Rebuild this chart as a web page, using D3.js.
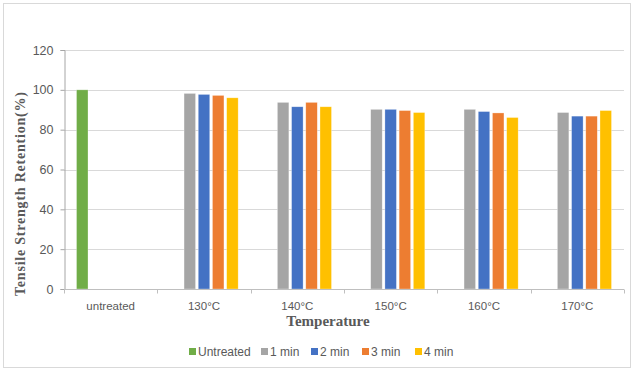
<!DOCTYPE html>
<html>
<head>
<meta charset="utf-8">
<script src="https://d3js.org/d3.v7.min.js"></script>
<style>
  body { margin: 0; background: #fff; }
  svg { display: block; }
</style>
</head>
<body>
<svg id="chart" width="635" height="378"></svg>
<script>
// data
var categories = ["untreated", "130°C", "140°C", "150°C", "160°C", "170°C"];
var seriesNames = ["Untreated", "1 min", "2 min", "3 min", "4 min"];
var seriesColors = ["#70ad47", "#a5a5a5", "#4472c4", "#ed7d31", "#ffc000"];
var untreated = [100, null, null, null, null, null];
var min1 = [null, 98.2, 93.7, 90.2, 90.2, 88.6];
var min2 = [null, 97.7, 91.5, 90.2, 89.1, 86.8];
var min3 = [null, 97.2, 93.7, 89.6, 88.4, 86.8];
var min4 = [null, 96.0, 91.5, 88.6, 86.1, 89.6];
var yTicks = [0, 20, 40, 60, 80, 100, 120];

var seriesValues = [untreated, min1, min2, min3, min4];

var svg = d3.select("#chart");
var margin = {left: 64, right: 11, top: 50, bottom: 89};
var W = 635, H = 378;

// outer chart border
svg.append("rect")
    .attr("x", 3.5).attr("y", 3.5)
    .attr("width", 627).attr("height", 364)
    .attr("fill", "#fff")
    .attr("stroke", "#d9d9d9");

var x0 = d3.scaleBand()
    .domain(categories)
    .range([margin.left, W - margin.right])
    .padding(0);

var x1 = d3.scaleBand()
    .domain(seriesNames)
    .range([0, x0.bandwidth()])
    .paddingInner(0.19)
    .paddingOuter(0.88);

var y = d3.scaleLinear()
    .domain([0, 120])
    .range([H - margin.bottom, margin.top]);

// gridlines
svg.append("g")
    .selectAll("line")
    .data(yTicks.slice(1))
    .join("line")
    .attr("x1", margin.left)
    .attr("x2", W - margin.right)
    .attr("y1", function(d) { return Math.round(y(d)) + 0.5; })
    .attr("y2", function(d) { return Math.round(y(d)) + 0.5; })
    .attr("stroke", "#d9d9d9");

// bars
var rows = [];
seriesValues.forEach(function(vals, s) {
    vals.forEach(function(v, c) {
        if (v != null) rows.push({cat: categories[c], series: seriesNames[s], value: v, color: seriesColors[s]});
    });
});

svg.append("g")
    .selectAll("rect")
    .data(rows)
    .join("rect")
    .attr("x", function(d) { return x0(d.cat) + x1(d.series); })
    .attr("y", function(d) { return y(d.value); })
    .attr("width", x1.bandwidth())
    .attr("height", function(d) { return y(0) - y(d.value); })
    .attr("fill", function(d) { return d.color; })
    .attr("stroke", "#fff")
    .attr("stroke-opacity", 0.5)
    .attr("stroke-width", 0.6);

// y axis
var yAxis = svg.append("g")
    .attr("transform", "translate(" + (margin.left + 0.5) + ",0)")
    .call(d3.axisLeft(y).tickValues(yTicks).tickSize(4).tickPadding(7));
yAxis.select(".domain").attr("stroke", "#a6a6a6");
yAxis.selectAll(".tick line").attr("stroke", "#a6a6a6");
yAxis.selectAll(".tick text")
    .attr("fill", "#595959")
    .style("font-family", "'Liberation Sans', Arial, sans-serif")
    .style("font-size", "12.5px");

// x axis
var xAxis = svg.append("g")
    .attr("transform", "translate(0," + (Math.round(y(0)) + 0.5) + ")");
xAxis.append("line")
    .attr("x1", margin.left).attr("x2", W - margin.right)
    .attr("stroke", "#bfbfbf");
xAxis.selectAll("line.tk")
    .data(categories.concat(["end"]))
    .join("line")
    .attr("class", "tk")
    .attr("x1", function(d, i) { return Math.round(margin.left + i * x0.step()) + 0.5; })
    .attr("x2", function(d, i) { return Math.round(margin.left + i * x0.step()) + 0.5; })
    .attr("y1", 0).attr("y2", 4)
    .attr("stroke", "#bfbfbf");
xAxis.selectAll("text")
    .data(categories)
    .join("text")
    .attr("x", function(d) { return x0(d) + x0.bandwidth() / 2; })
    .attr("y", 20)
    .attr("text-anchor", "middle")
    .attr("fill", "#595959")
    .style("font-family", "'Liberation Sans Narrow', 'Liberation Sans', Arial, sans-serif")
    .style("font-size", "11.5px")
    .text(function(d) { return d; });

// axis titles
svg.append("text")
    .attr("x", 328)
    .attr("y", 326)
    .attr("text-anchor", "middle")
    .attr("fill", "#595959")
    .style("font-family", "'Liberation Serif', 'Times New Roman', serif")
    .style("font-weight", "bold")
    .style("font-size", "15px")
    .text("Temperature");

svg.append("text")
    .attr("transform", "translate(25,194) rotate(-90)")
    .attr("text-anchor", "middle")
    .attr("fill", "#595959")
    .attr("textLength", 204)
    .attr("lengthAdjust", "spacing")
    .style("font-family", "'Liberation Serif', 'Times New Roman', serif")
    .style("font-weight", "bold")
    .style("font-size", "14px")
    .text("Tensile Strength Retention(%)");

// legend
var legendX = [189, 261, 311, 362, 415];
var legend = svg.append("g").attr("transform", "translate(0,351)");
var item = legend.selectAll("g")
    .data(seriesNames)
    .join("g")
    .attr("transform", function(d, i) { return "translate(" + legendX[i] + ",0)"; });
item.append("rect")
    .attr("x", 0).attr("y", -3)
    .attr("width", 7).attr("height", 7)
    .attr("fill", function(d, i) { return seriesColors[i]; });
item.append("text")
    .attr("x", 9).attr("y", 5)
    .attr("fill", "#595959")
    .style("font-family", "'Liberation Sans Narrow', 'Liberation Sans', Arial, sans-serif")
    .style("font-size", "12px")
    .text(function(d) { return d; });
</script>
</body>
</html>
